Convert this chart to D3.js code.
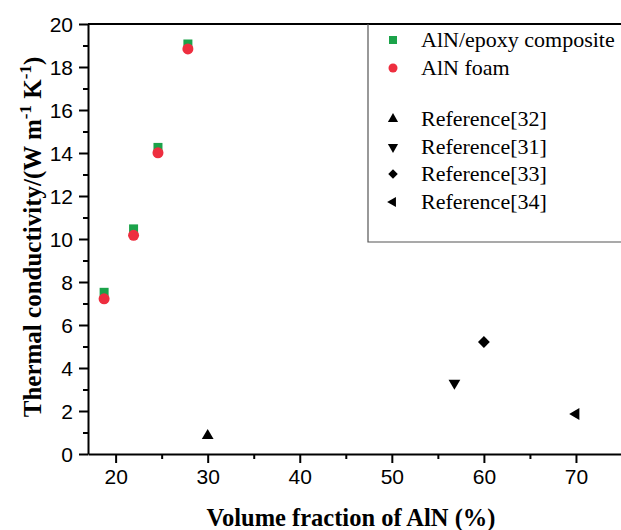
<!DOCTYPE html>
<html>
<head>
<meta charset="utf-8">
<script src="https://cdn.jsdelivr.net/npm/d3@7"></script>
<style>
  body { margin: 0; background: #fff; }
  .tick text { font-family: "Liberation Sans", Arial, sans-serif; font-size: 21px; fill: #000; }
  .title { font-family: "Liberation Serif", "Times New Roman", serif; font-weight: bold; }
  .legend { font-family: "Liberation Serif", "Times New Roman", serif; font-size: 22px; }
</style>
</head>
<body>
<svg id="chart"></svg>
<script>
// volume fraction of AlN (%)
var foamX = [18.75, 21.95, 24.6, 27.85]
// AlN/epoxy composite
var epoxyY = [7.52, 10.47, 14.26, 19.07]
// AlN foam
var foamY = [7.22, 10.17, 14.01, 18.84]

// literature values
var refLabels = ["Reference[32]", "Reference[31]", "Reference[33]", "Reference[34]"]
var refX = [30, 56.8, 60, 70]
var refY = [0.85, 3.3, 5.21, 1.86]

var xTicks = [20, 30, 40, 50, 60, 70]
var yTicks = [0, 2, 4, 6, 8, 10, 12, 14, 16, 18, 20]

var green = "#1ba34a"
var red = "#ee2e3f"

var width = 621
var height = 530
var plotLeft = 88, plotRight = 622, plotTop = 24, plotBottom = 454

var svg = d3.select("#chart")
    .attr("width", width)
    .attr("height", height)

var xScale = d3.scaleLinear().domain([17, 75]).range([plotLeft, plotRight])
var yScale = d3.scaleLinear().domain([0, 20]).range([plotBottom, plotTop])

// minor ticks
var xMinor = d3.range(25, 76, 10)
var yMinor = d3.range(1, 20, 2)

svg.append("g")
    .attr("transform", "translate(0," + plotBottom + ")")
    .call(d3.axisBottom(xScale).tickValues(xMinor).tickSize(5).tickFormat(""))
    .call(g => g.select(".domain").remove())
    .selectAll("line").attr("stroke-width", 2)

svg.append("g")
    .attr("transform", "translate(" + plotLeft + ",0)")
    .call(d3.axisLeft(yScale).tickValues(yMinor).tickSize(5).tickFormat(""))
    .call(g => g.select(".domain").remove())
    .selectAll("line").attr("stroke-width", 2)

var xAxis = svg.append("g")
    .attr("transform", "translate(0," + plotBottom + ")")
    .call(d3.axisBottom(xScale).tickValues(xTicks).tickSize(9).tickPadding(6).tickSizeOuter(0))
xAxis.select(".domain").attr("stroke-width", 2)
xAxis.selectAll(".tick line").attr("stroke-width", 2)

var yAxis = svg.append("g")
    .attr("transform", "translate(" + plotLeft + ",0)")
    .call(d3.axisLeft(yScale).tickValues(yTicks).tickSize(9).tickPadding(6).tickSizeOuter(0))
yAxis.select(".domain").attr("stroke-width", 2)
yAxis.selectAll(".tick line").attr("stroke-width", 2)
yAxis.selectAll(".tick text").attr("dy", "0.36em")

// top frame line
svg.append("line")
    .attr("x1", plotLeft).attr("x2", plotRight)
    .attr("y1", plotTop).attr("y2", plotTop)
    .attr("stroke", "#000").attr("stroke-width", 2)

// data points
svg.selectAll(".epoxy")
    .data(foamX)
    .enter().append("rect")
    .attr("x", (d, i) => xScale(d) - 4.5)
    .attr("y", (d, i) => yScale(epoxyY[i]) - 4.5)
    .attr("width", 9).attr("height", 9)
    .attr("fill", green)

svg.selectAll(".foam")
    .data(foamX)
    .enter().append("circle")
    .attr("cx", d => xScale(d))
    .attr("cy", (d, i) => yScale(foamY[i]))
    .attr("r", 5.5)
    .attr("fill", red)

var refRotate = [0, 180, 45, -90]
function refSymbol(i, size) {
    var type = i == 2 ? d3.symbolSquare : d3.symbolTriangle
    return d3.symbol().type(type).size(size)()
}

svg.selectAll(".ref")
    .data(refX)
    .enter().append("path")
    .attr("d", (d, i) => refSymbol(i, i == 2 ? 70 : 60))
    .attr("transform", (d, i) => "translate(" + xScale(d) + "," + yScale(refY[i]) + ") rotate(" + refRotate[i] + ")")
    .attr("fill", "#000")

// legend
var lgX = 368, lgBottom = 242
svg.append("path")
    .attr("d", "M" + lgX + "," + plotTop + "V" + lgBottom + "H" + (plotRight + 2))
    .attr("fill", "none").attr("stroke", "#555").attr("stroke-width", 1.2)

var mx = 393, tx = 421
var rows = [40, 68, 119, 147, 174, 202]

svg.append("rect").attr("x", mx - 4).attr("y", rows[0] - 4).attr("width", 8).attr("height", 8).attr("fill", green)
svg.append("circle").attr("cx", mx).attr("cy", rows[1]).attr("r", 4.5).attr("fill", red)

svg.append("text").attr("class", "legend").attr("x", tx).attr("y", rows[0]).attr("dy", "0.33em").text("AlN/epoxy composite")
svg.append("text").attr("class", "legend").attr("x", tx).attr("y", rows[1]).attr("dy", "0.33em").text("AlN foam")

refLabels.forEach(function(lbl, i) {
    var y = rows[i + 2]
    svg.append("path")
        .attr("d", refSymbol(i, 45))
        .attr("transform", "translate(" + mx + "," + y + ") rotate(" + refRotate[i] + ")")
        .attr("fill", "#000")
    svg.append("text").attr("class", "legend").attr("x", tx).attr("y", y).attr("dy", "0.33em").text(lbl)
})

// axis titles
svg.append("text")
    .attr("class", "title")
    .attr("font-size", 24.5)
    .attr("x", 351).attr("y", 526)
    .attr("text-anchor", "middle")
    .text("Volume fraction of AlN (%)")

var yt = svg.append("text")
    .attr("class", "title")
    .attr("font-size", 25)
    .attr("transform", "translate(41,237) rotate(-90)")
    .attr("text-anchor", "middle")
yt.append("tspan").text("Thermal conductivity/(W m")
yt.append("tspan").attr("dy", -10).attr("font-size", 17).text("-1")
yt.append("tspan").attr("dy", 10).text(" K")
yt.append("tspan").attr("dy", -10).attr("font-size", 17).text("-1")
yt.append("tspan").attr("dy", 10).text(")")
</script>
</body>
</html>
